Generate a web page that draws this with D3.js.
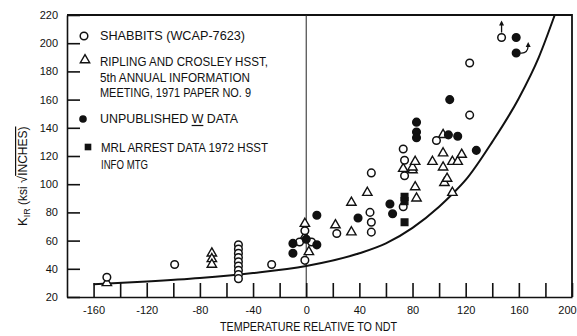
<!DOCTYPE html>
<meta charset="utf-8">
<style>
body { margin: 0; background: #fff; }
svg { font-family: "Liberation Sans", Arial, sans-serif; }
.axis text { font-size: 11px; fill: #111; }
.axis path, .axis line { stroke: #111; stroke-width: 1.6px; }
.lbl { font-size: 13px; fill: #111; }
</style>
<svg width="577" height="336"></svg>
<script src="https://d3js.org/d3.v7.min.js"></script>
<script>
// open circles: Shabbits (WCAP-7623)
var shabbitsT = [-150, -99, -51, -51, -51, -51, -51, -51, -51, -51, -51, -26, -5, 4, -1, -1, 23, 48, 49, 49, 49, 73, 74, 74, 73, 98, 123, 123, 147];
var shabbitsK = [34, 43, 57, 54, 51, 48, 45, 42, 39, 36, 33, 43, 59, 59, 67, 46, 65, 80, 73, 66, 108, 125, 117, 106, 84, 131, 149, 186, 204];

// open triangles: Ripling and Crosley
var riplingT = [-150, -71, -71, -71, -1, -1, 2, 22, 34, 34, 46, 73, 80, 80, 82, 82, 83, 95, 103, 103, 103, 104, 106, 110, 110, 114, 117];
var riplingK = [30, 51, 47, 43, 72, 63, 52, 71, 87, 66, 94, 111, 110, 112, 116, 98, 90, 116, 122, 135, 112, 101, 104, 116, 94, 116, 121];

// filled circles: unpublished W data
var unpubT = [-10, -10, 8, 8, 0, 39, 63, 65, 83, 83, 83, 107, 114, 108, 128, 158, 158];
var unpubK = [58, 51, 78, 57, 61, 76, 86, 79, 144, 137, 133, 135, 134, 160, 124, 204, 193];

// filled squares: MRL arrest data
var mrlT = [74, 74, 74];
var mrlK = [91, 88, 73];

// lower bound reference curve
var curveT = [-160, -120, -80, -40, 0, 40, 60, 80, 100, 110, 120, 140, 160, 175, 187];
var curveK = [29, 31, 33.5, 37, 42, 51, 58, 69, 84, 93, 103, 130, 161, 190, 220];

var xTicks = [-160, -140, -120, -100, -80, -60, -40, -20, 0, 20, 40, 60, 80, 100, 120, 140, 160, 180, 200];
var yTicks = [20, 40, 60, 80, 100, 120, 140, 160, 180, 200, 220];

var svg = d3.select("svg");

var x = d3.scaleLinear().domain([-180, 200]).range([67, 572]);
var y = d3.scaleLinear().domain([20, 220]).range([297, 15]);

// frame: top and right
svg.append("path")
    .attr("d", "M" + x(-180) + "," + y(220) + "H" + x(200) + "V" + y(20))
    .attr("fill", "none").attr("stroke", "#111").attr("stroke-width", 1.8);

// vertical line at 0
svg.append("line")
    .attr("x1", x(0)).attr("x2", x(0)).attr("y1", y(220)).attr("y2", y(20))
    .attr("stroke", "#222").attr("stroke-width", 1);

svg.append("g")
    .attr("class", "axis")
    .attr("transform", "translate(" + x(-180) + ",0)")
    .call(d3.axisLeft(y).tickValues(yTicks).tickSizeInner(-13).tickSizeOuter(0).tickPadding(9)
      .tickFormat(function(d) { return String(d); }));

var xAxis = svg.append("g")
    .attr("class", "axis")
    .attr("transform", "translate(0," + y(20) + ")")
    .call(d3.axisBottom(x).tickValues(xTicks).tickSizeInner(-14).tickSizeOuter(0).tickPadding(9)
      .tickFormat(function(d) { return d % 40 === 0 ? String(d) : ""; }));
// last label sits at the window edge, pull it in a little
xAxis.selectAll(".tick text").filter(function(d) { return d === 200; }).attr("dx", -5);

// reference curve
var line = d3.line()
    .x(function(d, i) { return x(curveT[i]); })
    .y(function(d, i) { return y(curveK[i]); })
    .curve(d3.curveMonotoneX);
svg.append("path")
    .attr("d", line(curveT))
    .attr("fill", "none").attr("stroke", "#111").attr("stroke-width", 2);

var tri = d3.symbol().type(d3.symbolTriangle).size(38);
var sq = d3.symbol().type(d3.symbolSquare).size(44);

function circles(T, K, filled) {
  svg.append("g").selectAll("circle")
    .data(T)
    .enter().append("circle")
      .attr("cx", function(d) { return x(d); })
      .attr("cy", function(d, i) { return y(K[i]); })
      .attr("r", 3.8)
      .attr("fill", filled ? "#111" : "#fff")
      .attr("stroke", "#111").attr("stroke-width", 1.5);
}
function symbols(T, K, gen, filled) {
  svg.append("g").selectAll("path")
    .data(T)
    .enter().append("path")
      .attr("d", gen)
      .attr("transform", function(d, i) { return "translate(" + x(d) + "," + y(K[i]) + ")"; })
      .attr("fill", filled ? "#111" : "#fff")
      .attr("stroke", "#111").attr("stroke-width", 1.4);
}

symbols(riplingT, riplingK, tri, false);
circles(shabbitsT, shabbitsK, false);
circles(unpubT, unpubK, true);
symbols(mrlT, mrlK, sq, true);

// arrows on the top points
var ax = x(shabbitsT[shabbitsT.length - 1]), ay = y(shabbitsK[shabbitsK.length - 1]);
svg.append("path")
    .attr("d", "M" + ax + "," + (ay - 5) + "V" + (ay - 15))
    .attr("stroke", "#111").attr("stroke-width", 1.3).attr("fill", "none");
svg.append("path")
    .attr("d", "M" + (ax - 2.5) + "," + (ay - 12) + "L" + ax + "," + (ay - 17) + "L" + (ax + 2.5) + "," + (ay - 12) + "Z")
    .attr("fill", "#111");
var bx = x(unpubT[unpubT.length - 1]), by = y(unpubK[unpubK.length - 1]);
svg.append("path")
    .attr("d", "M" + (bx + 4) + "," + by + "Q" + (bx + 12) + "," + (by + 1) + " " + (bx + 12) + "," + (by - 8))
    .attr("stroke", "#111").attr("stroke-width", 1.3).attr("fill", "none");
svg.append("path")
    .attr("d", "M" + (bx + 9.5) + "," + (by - 6) + "L" + (bx + 12) + "," + (by - 11) + "L" + (bx + 14.5) + "," + (by - 6) + "Z")
    .attr("fill", "#111");

// legend
var legend = svg.append("g");
legend.append("circle").attr("cx", 84).attr("cy", 36).attr("r", 3.8)
    .attr("fill", "#fff").attr("stroke", "#111").attr("stroke-width", 1.5);
legend.append("path").attr("d", tri).attr("transform", "translate(85,60)")
    .attr("fill", "#fff").attr("stroke", "#111").attr("stroke-width", 1.4);
legend.append("circle").attr("cx", 83).attr("cy", 119).attr("r", 3.8).attr("fill", "#111");
legend.append("path").attr("d", sq).attr("transform", "translate(88,147)").attr("fill", "#111");

function ltext(s, tx, ty, w) {
  return legend.append("text").attr("class", "lbl")
    .attr("x", tx).attr("y", ty)
    .attr("textLength", w).attr("lengthAdjust", "spacingAndGlyphs")
    .text(s);
}
ltext("SHABBITS (WCAP-7623)", 100, 40, 145);
ltext("RIPLING AND CROSLEY HSST,", 100, 66, 168);
ltext("5th ANNUAL INFORMATION", 100, 82, 150);
ltext("MEETING, 1971 PAPER NO. 9", 100, 97, 151);
var u = ltext("UNPUBLISHED W  DATA", 100, 123, 138);
// underline under the W
var wBox = u.node().getExtentOfChar(12);
legend.append("line")
    .attr("x1", wBox.x).attr("x2", wBox.x + wBox.width)
    .attr("y1", 125.5).attr("y2", 125.5)
    .attr("stroke", "#111").attr("stroke-width", 1.2);
ltext("MRL ARREST DATA 1972 HSST", 101, 152, 167);
ltext("INFO MTG", 101, 169, 47);

// axis titles
svg.append("text").attr("class", "lbl")
    .attr("x", 220).attr("y", 331)
    .attr("textLength", 177).attr("lengthAdjust", "spacingAndGlyphs")
    .text("TEMPERATURE RELATIVE TO NDT");

var yt = svg.append("text").attr("class", "lbl")
    .attr("transform", "translate(27,226) rotate(-90)")
    .attr("x", 0).attr("y", 0);
yt.append("tspan").text("K");
yt.append("tspan").attr("font-size", 9).attr("dy", 3).text("IR");
yt.append("tspan").attr("font-size", 12).attr("dy", -3).text(" (ksi ");
yt.append("tspan").text("\u221A");
yt.append("tspan").attr("font-size", 12).attr("text-decoration", "overline").text("INCHES)");
</script>
